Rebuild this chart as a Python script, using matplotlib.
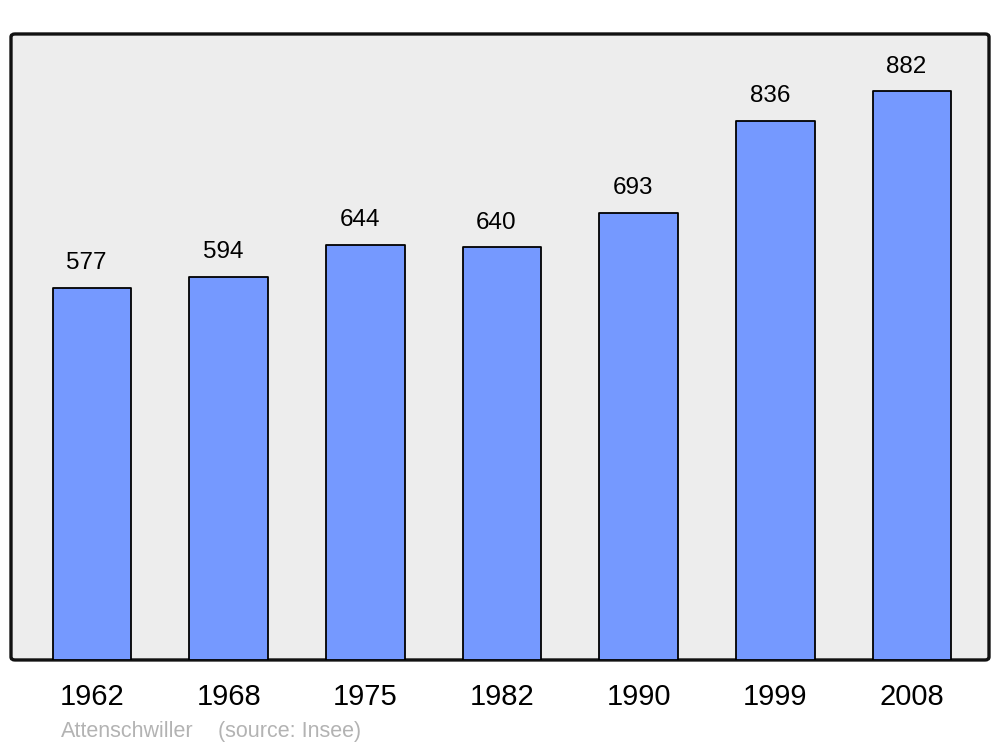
import matplotlib
matplotlib.use("Agg")
import matplotlib.pyplot as plt
from matplotlib.patches import FancyBboxPatch

years = ["1962", "1968", "1975", "1982", "1990", "1999", "2008"]
population = [577, 594, 644, 640, 693, 836, 882]
commune = "Attenschwiller"
source = "(source: Insee)"

plt.rcParams['font.family'] = ['Liberation Sans', 'DejaVu Sans']

fig = plt.figure(figsize=(10, 7.47), dpi=100)
fig.patch.set_facecolor('white')

ax_l, ax_b, ax_w, ax_h = 0.011, 0.1165, 0.978, 0.838
# rounded background frame
frame = FancyBboxPatch((ax_l, ax_b), ax_w, ax_h,
                       boxstyle="round,pad=0,rounding_size=0.004",
                       transform=fig.transFigure, facecolor='#ededed',
                       edgecolor='#111111', linewidth=2.4, zorder=-1)
fig.patches.append(frame)

ax = fig.add_axes([ax_l, ax_b, ax_w, ax_h])
ax.set_facecolor('none')
for s in ax.spines.values():
    s.set_visible(False)

x = list(range(len(years)))
bars = ax.bar(x, population, width=0.575, color='#7599ff', edgecolor='#000000',
              linewidth=1.3, zorder=2)
for b in bars:
    b.set_joinstyle('round')

ax.set_xlim(-0.593, 6.563)
ax.set_ylim(0, 971)
ax.set_yticks([])
ax.set_xticks(x)
ax.set_xticklabels(years, fontsize=21)
ax.tick_params(axis='x', length=0, pad=16.5)

for xi, v in zip(x, population):
    ax.annotate(str(v), xy=(xi, v), xytext=(-4, 13.5), textcoords='offset points',
                ha='center', va='baseline', fontsize=17.5, color='black')

fig.text(0.061, 0.013, commune, fontsize=15.5, color='#b3b3b3', ha='left', va='baseline')
fig.text(0.218, 0.013, source, fontsize=15.5, color='#b3b3b3', ha='left', va='baseline')

fig.savefig("out.png", dpi=100)
